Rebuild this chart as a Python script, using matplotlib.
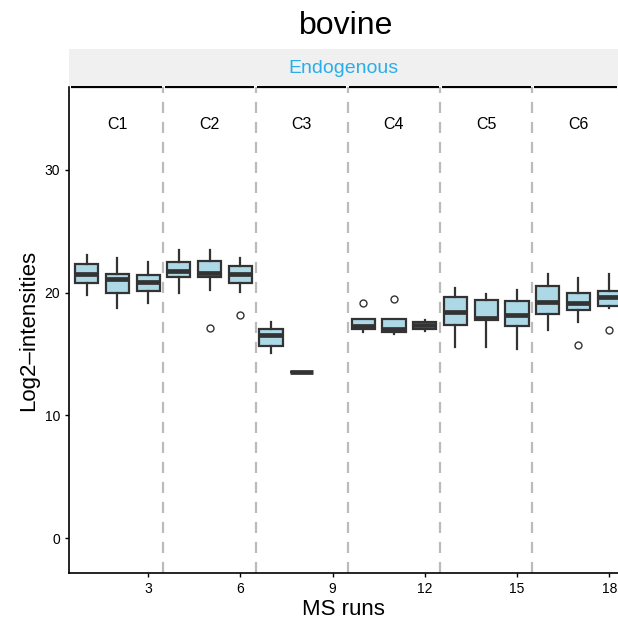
import matplotlib
matplotlib.use("Agg")
import matplotlib.pyplot as plt

plt.rcParams['font.family'] = ['Liberation Sans', 'DejaVu Sans']

# box stats, one entry per MS run
runs = [1, 2, 3, 4, 5, 6, 7, 8, 10, 11, 12, 13, 14, 15, 16, 17, 18]
whislo = [19.8, 18.77, 19.13, 20.0, 20.2, 20.07, 15.05, 13.5, 16.77, 16.63, 16.9, 15.54, 15.6, 15.4, 16.95, 17.63, 18.72]
q1 = [20.76, 20.0, 20.13, 21.3, 21.27, 20.78, 15.65, 13.5, 17.06, 16.77, 17.03, 17.39, 17.74, 17.28, 18.28, 18.58, 18.9]
med = [21.49, 21.1, 20.84, 21.79, 21.57, 21.54, 16.54, 13.5, 17.28, 17.0, 17.35, 18.4, 17.96, 18.15, 19.27, 19.15, 19.64]
q3 = [22.33, 21.5, 21.4, 22.47, 22.57, 22.17, 17.03, 13.5, 17.82, 17.87, 17.63, 19.62, 19.37, 19.3, 20.54, 19.94, 20.13]
whishi = [23.06, 22.8, 22.5, 23.5, 23.5, 22.8, 17.63, 13.5, 17.82, 17.87, 17.77, 20.4, 19.86, 20.2, 21.5, 21.2, 21.54]
outliers = {5: [17.14], 6: [18.17], 10: [19.13], 11: [19.5], 17: [15.76], 18: [16.95]}

conditions = ['C1', 'C2', 'C3', 'C4', 'C5', 'C6']
cond_centers = [2, 5, 8, 11, 14, 17]
cond_breaks = [3.5, 6.5, 9.5, 12.5, 15.5]

stats = []
for i, r in enumerate(runs):
    stats.append(dict(whislo=whislo[i], q1=q1[i], med=med[i], q3=q3[i],
                      whishi=whishi[i], fliers=outliers.get(r, [])))

fig = plt.figure(figsize=(6.18, 6.27), dpi=100)
ax = fig.add_axes([0.1117, 0.0861, 0.889, 0.7751])

edge = '#333333'
ax.bxp(stats, positions=runs, widths=0.75, patch_artist=True, showcaps=False,
       boxprops=dict(facecolor='#ADD8E6', edgecolor=edge, linewidth=1.6),
       whiskerprops=dict(color=edge, linewidth=1.6),
       medianprops=dict(color=edge, linewidth=3.4, solid_capstyle='butt'),
       flierprops=dict(marker='o', markerfacecolor='white', markeredgecolor=edge,
                       markersize=5, markeredgewidth=1.0))

for b in cond_breaks:
    ax.axvline(b, color='#BBBBBB', linestyle=(0, (5, 4)), linewidth=1.6, zorder=0)

for c, x in zip(conditions, cond_centers):
    ax.text(x, 33.7, c, ha='center', va='center', fontsize=11.5)

x0, x1 = 0.43, 18.30
ax.set_xlim(x0, x1)
ax.set_ylim(-2.85, 36.75)
ax.set_xticks([3, 6, 9, 12, 15, 18])
ax.set_xticklabels(['3', '6', '9', '12', '15', '18'])
ax.set_yticks([0, 10, 20, 30])
ax.tick_params(labelsize=10, length=3, width=1, color='black')
ax.set_xlabel('MS runs', fontsize=16, labelpad=2)
ax.set_ylabel('Log2\u2013intensities', fontsize=16, labelpad=4)

for s in ['top', 'right']:
    ax.spines[s].set_visible(False)
for s in ['left', 'bottom']:
    ax.spines[s].set_linewidth(1.2)

# top border broken at the condition separators
edges = [x0] + cond_breaks + [x1]
for a, b in zip(edges[:-1], edges[1:]):
    ax.plot([a + 0.05, b - 0.05], [36.75, 36.75], color='black', linewidth=1.6,
            clip_on=False, solid_capstyle='butt')

# facet strip
strip = fig.add_axes([0.1117, 0.8628, 0.889, 0.059])
strip.set_facecolor('#F0F0F0')
strip.set_xticks([])
strip.set_yticks([])
for s in strip.spines.values():
    s.set_visible(False)
strip.text(0.5, 0.48, 'Endogenous', ha='center', va='center', color='#29AEEA',
           fontsize=14, transform=strip.transAxes)

fig.text(0.56, 0.958, 'bovine', ha='center', va='center', fontsize=23)

fig.savefig('out.png', dpi=100)
